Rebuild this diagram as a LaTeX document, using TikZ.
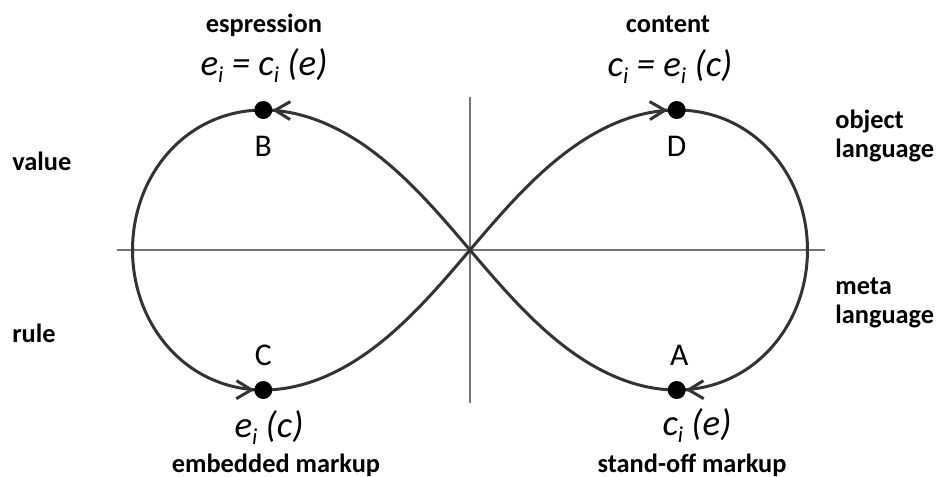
\documentclass[tikz,border=0pt]{standalone}
\usepackage{fontspec}
\setmainfont{Carlito}
\usetikzlibrary{arrows.meta,positioning}

% lemniscate, scaled a bit in y
\newcommand{\lemx}[1]{6.75*cos(#1)/(1+sin(#1)*sin(#1))}
\newcommand{\lemy}[1]{-7.92*sin(#1)*cos(#1)/(1+sin(#1)*sin(#1))}
% low index
\newcommand{\idx}[1]{\raisebox{-0.45ex}{\fontsize{13}{13}\selectfont #1}}

\begin{document}
\begin{tikzpicture}[
  lbl/.style={inner sep=0pt, font=\fontsize{15}{16}\selectfont\bfseries},
  letter/.style={inner sep=0pt, font=\fontsize{18}{20}\selectfont},
  formula/.style={inner sep=0pt, font=\fontsize{21}{24}\selectfont\itshape},
  dot/.style={circle, fill=black, inner sep=0pt, minimum size=3.6mm},
  axis/.style={draw=black!55, line width=1.1pt},
  curve/.style={draw=black!80, line width=1.7pt,
    -{Straight Barb[length=3mm,width=3.6mm]}, shorten >=1.8mm},
]
  \useasboundingbox (-9.4,-4.52) rectangle (9.42,5.0);

  % axes
  \coordinate (axl) at (-7.06,0);
  \coordinate (axr) at (7.1,0);
  \coordinate (axt) at (0,3.06);
  \coordinate (axb) at (0,-3.06);
  \draw[axis] (axl) -- (axr);
  \draw[axis] (axt) -- (axb);

  % the eight, one piece per arrow
  \foreach \from/\to in {144.74/215.26, 215.26/324.74, 324.74/395.26, 35.26/144.74}
    \draw[curve] plot[domain=\from:\to, samples=60, smooth, variable=\t]
      ({\lemx{\t}}, {\lemy{\t}});

  \node[dot] (dotB) at (-4.134,2.8) {};
  \node[dot] (dotD) at (4.134,2.8) {};
  \node[dot] (dotC) at (-4.134,-2.8) {};
  \node[dot] (dotA) at (4.134,-2.8) {};

  \node[letter, below=0.32cm of dotB] (B) {B};
  \node[letter, below=0.32cm of dotD] (D) {D};
  \node[letter, above=0.3cm of dotC] (C) {C};
  \node[letter, above=0.3cm of dotA, xshift=0.05cm] (A) {A};

  \node[lbl, anchor=base] (espr) at (-4.12,4.36) {espression};
  \node[formula, anchor=base] (fB) at (-4.12,3.5) {e\idx{i} = c\idx{i} (e)};
  \node[lbl, anchor=base] (cont) at (3.96,4.36) {content};
  \node[formula, anchor=base] (fD) at (4.0,3.48) {c\idx{i} = e\idx{i} (c)};
  \node[formula, anchor=base] (fC) at (-4.02,-3.74) {e\idx{i} (c)};
  \node[lbl, anchor=base] (emb) at (-3.88,-4.44) {embedded markup};
  \node[formula, anchor=base] (fA) at (4.54,-3.7) {c\idx{i} (e)};
  \node[lbl, anchor=base] (stand) at (4.44,-4.44) {stand-off markup};

  \node[lbl, anchor=base west] (val) at (-9.16,1.6) {value};
  \node[lbl, anchor=base west] (rul) at (-9.16,-1.84) {rule};
  \node[lbl, anchor=base west, align=left] (obj) at (7.3,1.86) {object\\language};
  \node[lbl, anchor=base west, align=left] (meta) at (7.3,-1.46) {meta\\language};
\end{tikzpicture}
\end{document}
